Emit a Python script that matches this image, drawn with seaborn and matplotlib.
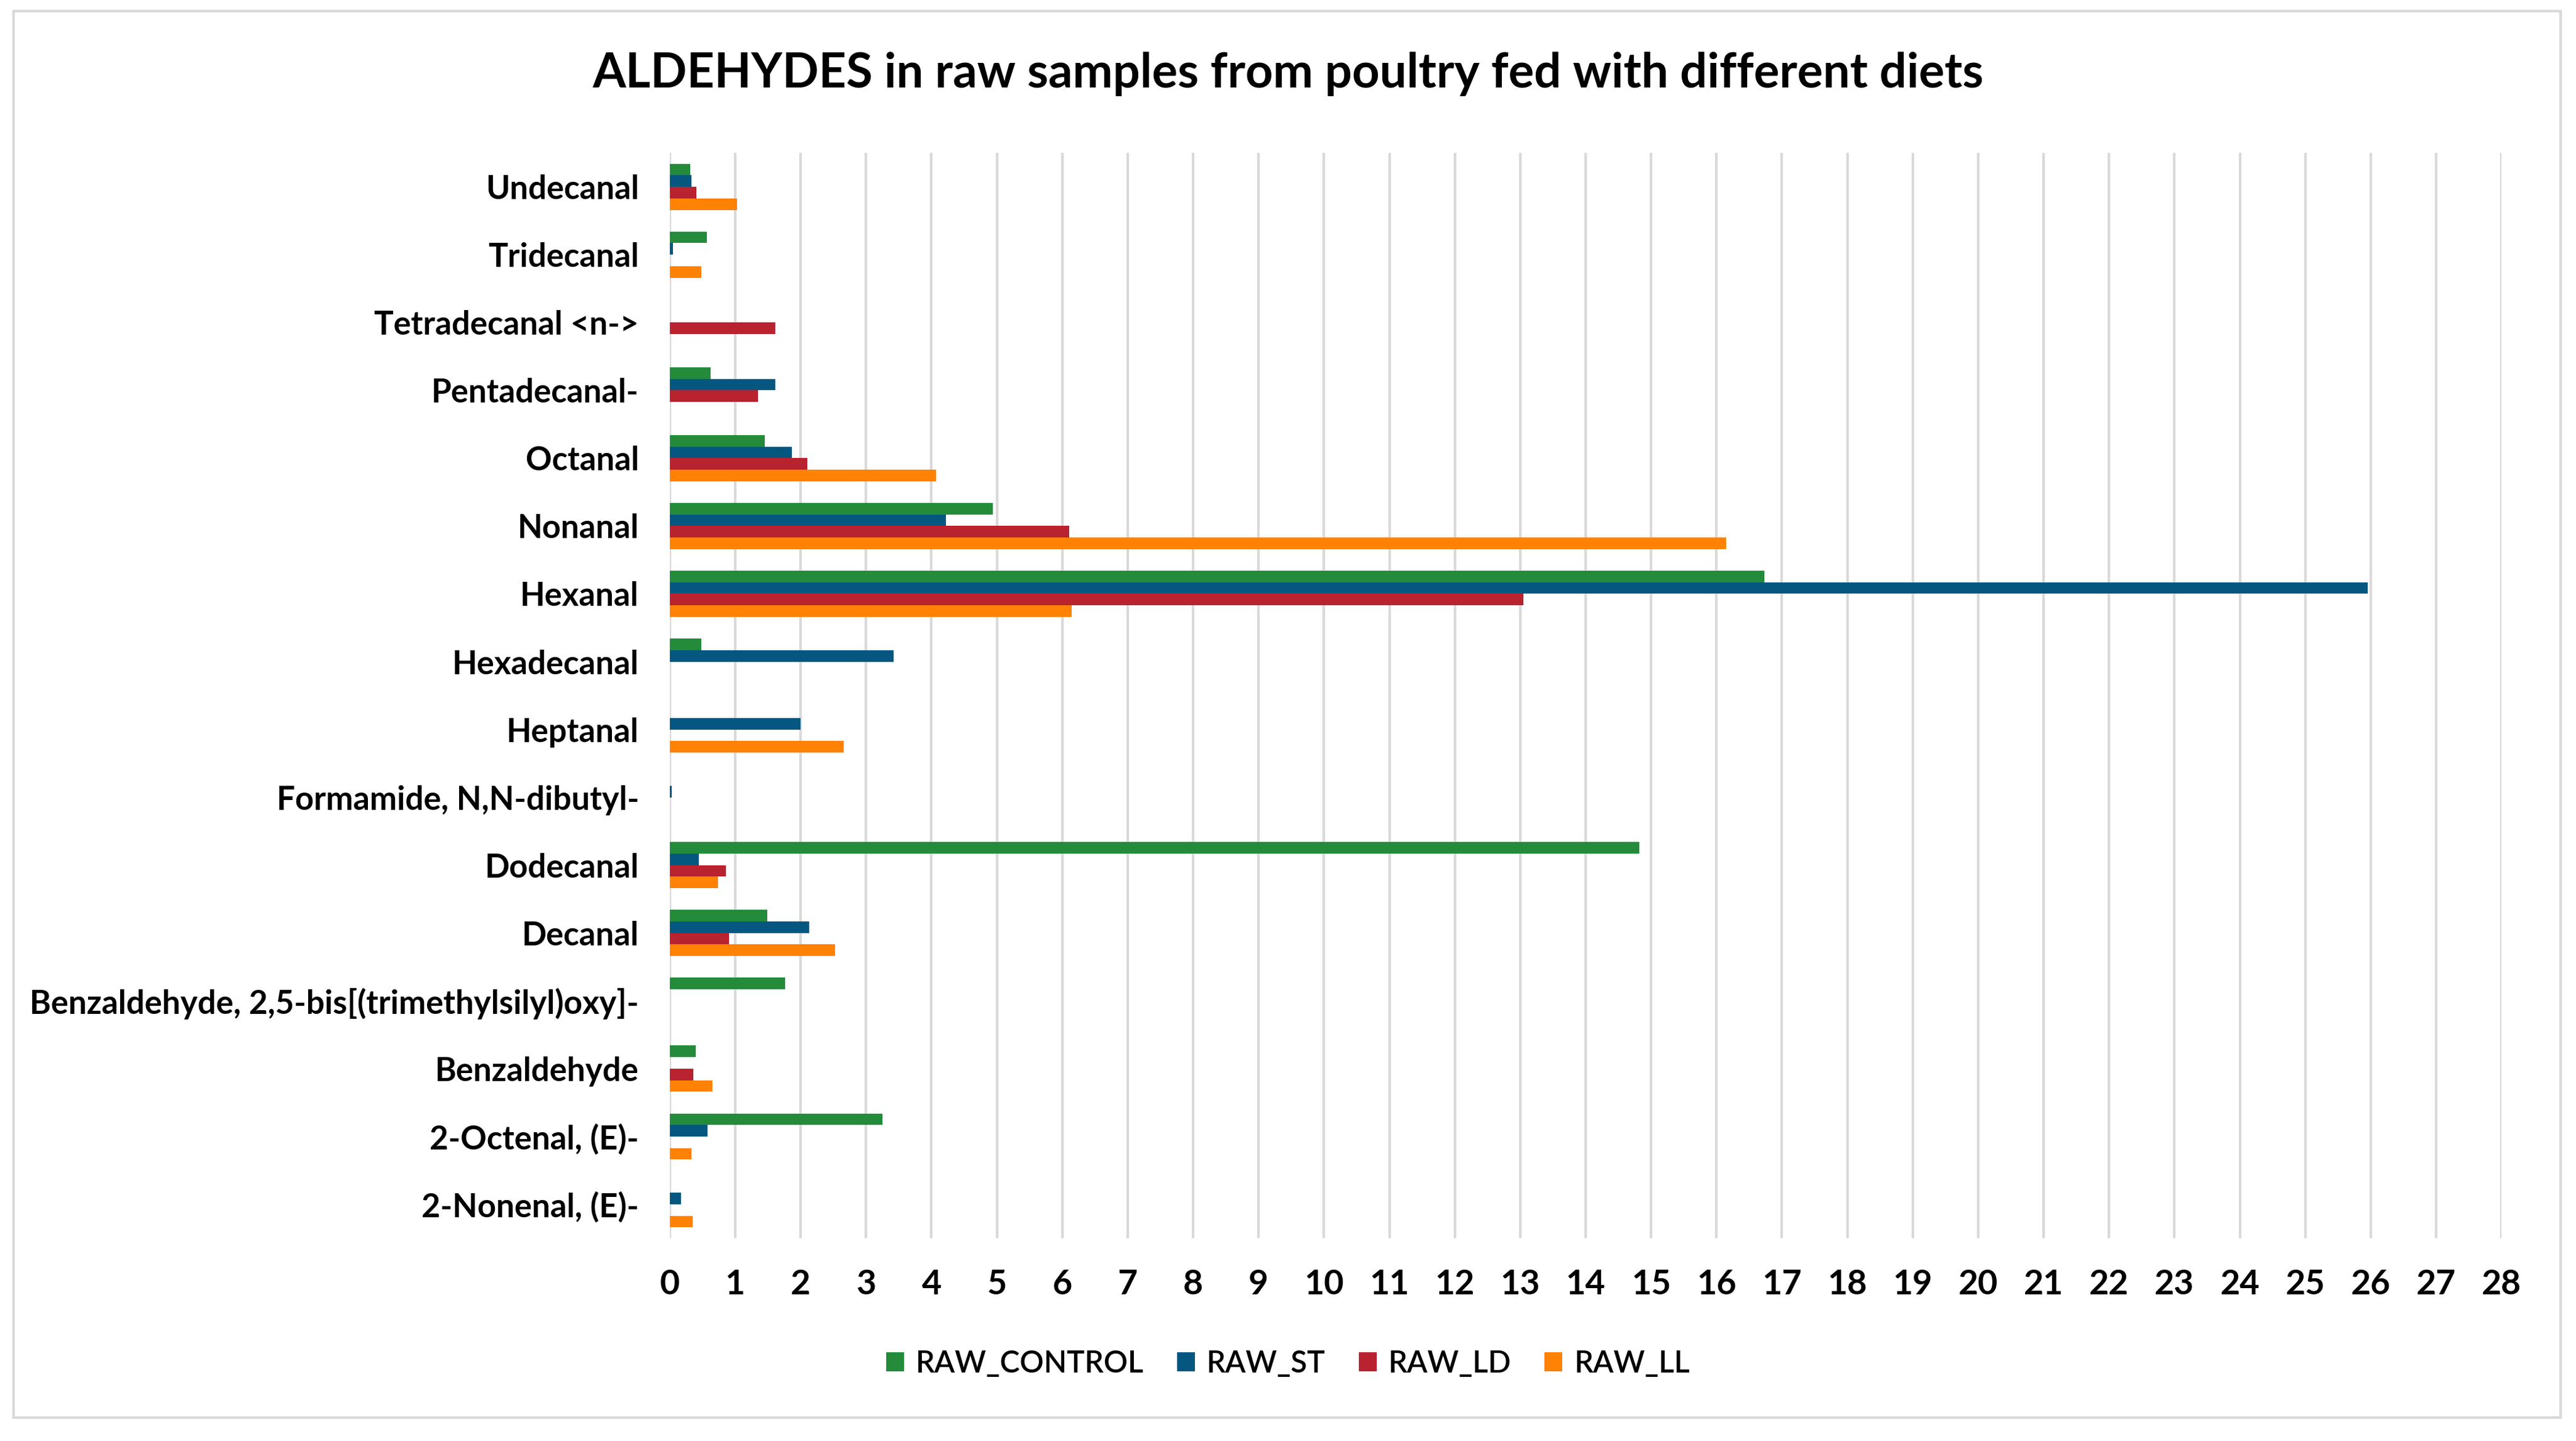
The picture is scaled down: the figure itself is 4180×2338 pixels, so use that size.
import numpy as np
import pandas as pd
import matplotlib
matplotlib.use("Agg")
import matplotlib.pyplot as plt
import seaborn as sns
from matplotlib.patches import Rectangle

categories = ["Undecanal", "Tridecanal", "Tetradecanal <n->", "Pentadecanal-", "Octanal",
              "Nonanal", "Hexanal", "Hexadecanal", "Heptanal", "Formamide, N,N-dibutyl-",
              "Dodecanal", "Decanal", "Benzaldehyde, 2,5-bis[(trimethylsilyl)oxy]-",
              "Benzaldehyde", "2-Octenal, (E)-", "2-Nonenal, (E)-"]
raw_control = [0.31, 0.57, 0.0, 0.62, 1.45, 4.94, 16.73, 0.48, 0.0, 0.0, 14.82, 1.49, 1.76, 0.40, 3.25, 0.0]
raw_st      = [0.33, 0.05, 0.0, 1.61, 1.87, 4.22, 25.95, 3.42, 2.00, 0.03, 0.44, 2.13, 0.0, 0.0, 0.58, 0.17]
raw_ld      = [0.41, 0.0, 1.61, 1.35, 2.10, 6.11, 13.05, 0.0, 0.0, 0.0, 0.86, 0.91, 0.0, 0.36, 0.0, 0.0]
raw_ll      = [1.03, 0.48, 0.0, 0.0, 4.07, 16.15, 6.14, 0.0, 2.66, 0.0, 0.74, 2.53, 0.0, 0.65, 0.33, 0.35]
series = ["RAW_CONTROL", "RAW_ST", "RAW_LD", "RAW_LL"]
colors = ["#238B3A", "#06577F", "#B8232F", "#FF8205"]
xticks = list(range(0, 29))

df = pd.DataFrame({"compound": categories, "RAW_CONTROL": raw_control, "RAW_ST": raw_st,
                   "RAW_LD": raw_ld, "RAW_LL": raw_ll})
long = df.melt(id_vars="compound", var_name="series", value_name="value")

sns.set_theme(style="white")
plt.rcParams['font.family'] = ['Lato', 'DejaVu Sans']
plt.rcParams['text.color'] = 'black'
plt.rcParams['xtick.color'] = 'black'
plt.rcParams['ytick.color'] = 'black'

fig = plt.figure(figsize=(41.8, 23.38), dpi=100)
ax = fig.add_axes([0.2600, 0.1407, 0.7111, 0.7532])

sns.barplot(data=long, y="compound", x="value", hue="series", order=categories,
            hue_order=series, palette=colors, orient="h", width=0.68, ax=ax,
            errorbar=None, saturation=1, legend=True, linewidth=0)

ax.set_xlim(0, 28)
ax.set_ylim(len(categories) - 0.5, -0.5)
ax.set_xticks(xticks)
ax.set_xticklabels([str(t) for t in xticks], fontsize=40, fontweight="bold", color="black")
ax.set_yticks(range(len(categories)))
ax.set_yticklabels(categories, fontsize=38, fontweight="bold", color="black")
ax.tick_params(axis="x", length=0, pad=36)
ax.tick_params(axis="y", length=0, pad=36)
ax.xaxis.grid(True, color="#D9D9D9", linewidth=3)
ax.yaxis.grid(False)
ax.set_axisbelow(True)
for s in ax.spines.values():
    s.set_visible(False)
ax.set_xlabel("")
ax.set_ylabel("")

handles, labels = ax.get_legend_handles_labels()
ax.get_legend().remove()
fig.legend(handles, labels, loc="center", bbox_to_anchor=(0.5, 0.0535), ncol=4,
           frameon=False, prop={"size": 35, "weight": "semibold"}, handlelength=0.6,
           handleheight=0.6, columnspacing=1.1, handletextpad=0.4, labelcolor="black")

fig.text(0.5, 1 - 120 / 2338, "ALDEHYDES in raw samples from poultry fed with different diets",
         ha="center", va="center", fontsize=56, fontweight="bold", color="black")

fig.patches.append(Rectangle((22 / 4180, 1 - 2300 / 2338), (4155 - 22) / 4180, (2300 - 18) / 2338,
                             transform=fig.transFigure, fill=False, edgecolor="#D9D9D9",
                             linewidth=3))

fig.savefig("out.png", dpi=100)
